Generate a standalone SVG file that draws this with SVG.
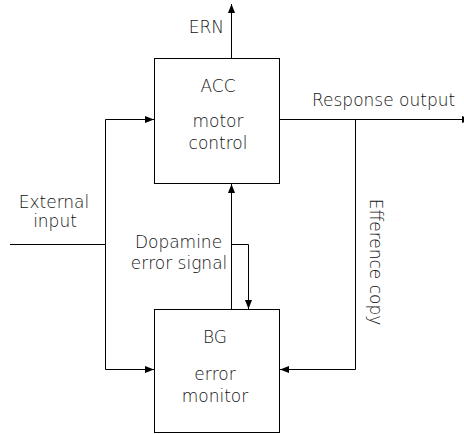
<svg xmlns="http://www.w3.org/2000/svg" width="464" height="434" viewBox="0 0 464 434">
  <style>
    .box { fill: #ffffff; stroke: #000000; stroke-width: 1; }
    .wire { fill: none; stroke: #000000; stroke-width: 1; }
    .arrow { marker-end: url(#head); }
    text { font-family: "DejaVu Sans", "Liberation Sans", sans-serif; font-size: 17px; font-weight: 200; fill: #111111; }
    .mid { text-anchor: middle; }
  </style>
  <defs>
    <marker id="head" viewBox="0 0 9 7" refX="9" refY="3.5" markerWidth="9" markerHeight="7" markerUnits="userSpaceOnUse" orient="auto">
      <path d="M0,0 L9,3.5 L0,7 Z" fill="#000000"/>
    </marker>
  </defs>
  <rect width="464" height="434" fill="#ffffff"/>

  <g id="connectors">
    <!-- ERN output upwards from ACC -->
    <path class="wire arrow" d="M231.5,58 V4"/>
    <!-- external input split to ACC and BG -->
    <path class="wire" d="M10,244.5 H105.5"/>
    <path class="wire arrow" d="M105.5,244.5 V119.5 H154"/>
    <path class="wire arrow" d="M105.5,244.5 V369.5 H154"/>
    <!-- BG to ACC -->
    <path class="wire arrow" d="M231.5,309 V184"/>
    <!-- dopamine error signal loop back into BG -->
    <path class="wire arrow" d="M231.5,244.5 H248.5 V309"/>
    <!-- response output -->
    <path class="wire arrow" d="M280,119.5 H471"/>
    <!-- efference copy -->
    <path class="wire arrow" d="M355.5,119.5 V369.5 H280"/>
  </g>

  <g id="acc">
    <rect class="box" x="154.5" y="58.5" width="125" height="125"/>
    <text class="mid" x="218" y="92">ACC</text>
    <text class="mid" x="218" y="127">motor</text>
    <text class="mid" x="218" y="149">control</text>
  </g>

  <g id="bg">
    <rect class="box" x="154.5" y="309.5" width="125" height="123"/>
    <text class="mid" x="215" y="343">BG</text>
    <text class="mid" x="215" y="380">error</text>
    <text class="mid" x="215" y="402">monitor</text>
  </g>

  <g id="labels">
    <text x="224" y="33" text-anchor="end">ERN</text>
    <text class="mid" x="54" y="208">External</text>
    <text class="mid" x="55" y="227">input</text>
    <text class="mid" x="178.5" y="248">Dopamine</text>
    <text class="mid" x="179" y="269">error signal</text>
    <text x="312" y="106">Response output</text>
    <text class="mid" transform="translate(370,262) rotate(90)">Efference copy</text>
  </g>
</svg>
